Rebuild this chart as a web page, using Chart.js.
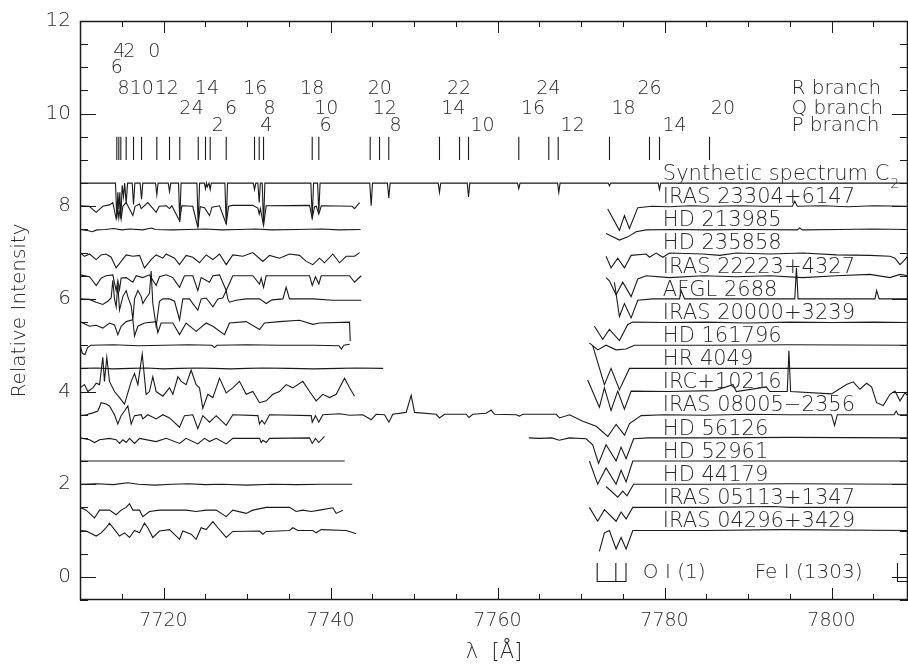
<!DOCTYPE html>
<html>
<head>
<meta charset="utf-8">
<script src="https://cdn.jsdelivr.net/npm/chart.js@4.4.1/dist/chart.umd.min.js"></script>
<style>
  html, body { margin: 0; padding: 0; background: #fff; }
  #wrap { width: 908px; height: 669px; }
</style>
</head>
<body>
<div id="wrap"><canvas id="specChart" width="908" height="669"></canvas></div>
<script>
// axis ranges and ticks
const xMin = 7710, xMax = 7809.16;
const yMin = -0.5, yMax = 12;
const xTickValues = [7720, 7740, 7760, 7780, 7800];
const yTickValues = [0, 2, 4, 6, 8, 10, 12];

// C2 line identifications
const lineTicks = [7714.41, 7714.65, 7714.89, 7715.53, 7716.41, 7717.37, 7719.20, 7720.72, 7721.95,
  7724.16, 7725.03, 7725.59, 7727.51, 7730.90, 7731.46, 7731.98, 7737.81, 7738.60,
  7744.75, 7745.87, 7746.98, 7753.05, 7755.45, 7756.53, 7762.55, 7766.14, 7767.27,
  7773.41, 7778.20, 7779.40, 7785.39];
const headNums = ['4', '2', '0'];
const headPos = [7714.7, 7715.9, 7718.9];
const head2Nums = ['6'];
const head2Pos = [7714.4];
const rNums = ['8', '10', '12', '14', '16', '18', '20', '22', '24', '26'];
const rPos = [7715.2, 7717.4, 7720.4, 7725.2, 7731.0, 7737.8, 7745.9, 7755.4, 7766.1, 7778.2];
const qNums = ['2', '4', '6', '8', '10', '12', '14', '16', '18', '20'];
const qPos = [7722.6, 7724.1, 7728.1, 7732.7, 7739.5, 7746.5, 7754.7, 7764.25, 7775.1, 7787.0];
const pNums = ['2', '4', '6', '8', '10', '12', '14'];
const pPos = [7726.5, 7732.3, 7739.4, 7747.8, 7758.2, 7769.0, 7781.2];
const branchNames = ['R branch', 'Q branch', 'P branch'];

// object names and their offsets
const starNames = ['IRAS 23304+6147', 'HD 213985', 'HD 235858', 'IRAS 22223+4327', 'AFGL 2688',
  'IRAS 20000+3239', 'HD 161796', 'HR 4049', 'IRC+10216', 'IRAS 08005\u22122356', 'HD 56126',
  'HD 52961', 'HD 44179', 'IRAS 05113+1347', 'IRAS 04296+3429'];
const starLevels = [8.0, 7.5, 7.0, 6.5, 6.0, 5.5, 5.0, 4.5, 4.0, 3.5, 3.0, 2.5, 2.0, 1.5, 1.0];
const synthLevel = 8.5;

// O I and Fe I markers
const oiLines = [7771.94, 7774.17, 7775.39];
const feiLines = [7807.9];

// spectra [wavelength, offset intensity]
const synth = [[7710,8.5],[7714.25,8.5],[7714.41,7.73],[7714.53,8.3],[7714.65,7.94],[7714.77,8.3],[7714.89,7.73],
  [7715.05,8.45],[7715.21,8.21],[7715.35,8.5],[7715.53,8.06],[7715.7,8.5],[7716.25,8.5],[7716.41,8.04],[7716.57,8.5],
  [7717.2,8.5],[7717.37,8.15],[7717.52,8.5],[7719.05,8.5],[7719.2,8.25],[7719.35,8.5],[7720.57,8.5],[7720.72,8.32],
  [7720.87,8.5],[7721.8,8.5],[7721.95,7.66],[7722.1,8.5],[7724.0,8.5],[7724.16,7.56],[7724.32,8.5],[7724.9,8.5],
  [7725.03,8.38],[7725.15,8.5],[7725.25,8.42],[7725.45,8.5],[7725.59,8.36],[7725.72,8.5],[7727.35,8.5],[7727.51,7.62],
  [7727.67,8.5],[7730.75,8.5],[7730.9,8.36],[7731.05,8.5],[7731.3,8.5],[7731.46,8.08],[7731.6,8.5],[7731.82,8.5],
  [7731.98,7.59],[7732.14,8.5],[7737.65,8.5],[7737.81,7.73],[7737.97,8.5],[7738.45,8.5],[7738.6,7.87],[7738.75,8.5],
  [7744.7,8.5],[7744.87,8.01],[7745.03,8.5],[7746.82,8.5],[7746.98,8.18],[7747.14,8.5],[7752.9,8.5],[7753.05,8.3],
  [7753.2,8.5],[7756.38,8.5],[7756.53,8.2],[7756.68,8.5],[7762.4,8.5],[7762.55,8.38],[7762.7,8.5],[7767.19,8.5],
  [7767.34,8.3],[7767.49,8.5],[7773.26,8.5],[7773.41,8.44],[7773.56,8.5],[7779.25,8.5],[7779.4,8.36],[7779.55,8.5],
  [7809.5,8.5]];

const iras23304L = [[7710,8.01],[7711.1,8.0],[7711.94,7.87],[7712.73,8.0],[7713.53,8.03],[7713.93,8.08],[7714.33,7.73],
  [7714.53,7.95],[7714.65,7.75],[7714.8,7.95],[7714.93,7.73],[7715.13,8.0],[7715.53,8.08],[7716.33,7.8],[7716.6,8.0],
  [7717.13,8.05],[7717.33,7.95],[7718.12,8.08],[7719.12,7.87],[7719.5,8.0],[7720.32,8.01],[7720.72,7.95],[7721.0,8.01],
  [7721.92,7.69],[7722.2,8.01],[7723.5,8.0],[7724.11,7.55],[7724.4,7.99],[7724.91,7.97],[7725.51,7.8],[7725.8,7.98],
  [7726.71,8.01],[7727.51,7.62],[7727.8,8.0],[7728.3,8.02],[7730.7,8.02],[7731.3,7.96],[7731.46,7.83],[7731.6,7.95],
  [7731.98,7.59],[7732.3,8.01],[7737.49,8.02],[7737.81,7.74],[7738.1,7.99],[7738.3,8.0],[7738.6,7.83],[7738.9,8.01],
  [7742.6,8.0],[7742.88,7.95],[7743.48,8.08]];
const iras23304R = [[7773.2,7.94],[7774.6,7.48],[7775.2,7.8],[7775.8,7.52],[7776.8,7.97],[7778.5,8.0],[7780.6,7.99],
  [7783,8.01],[7786,8.0],[7789,8.01],[7792,8.0],[7795.3,8.0],[7795.6,8.11],[7795.9,8.0],[7799,8.01],[7802,7.99],
  [7805,8.01],[7809.2,8.0]];

const hd213985L = [[7710,7.5],[7711,7.47],[7711.5,7.45],[7712,7.49],[7713,7.5],[7714,7.52],[7715,7.49],[7716,7.51],
  [7717.5,7.49],[7718.6,7.53],[7719,7.5],[7721,7.49],[7723,7.5],[7725,7.51],[7727,7.49],[7729,7.5],[7731,7.51],
  [7733,7.49],[7736,7.5],[7739,7.51],[7741,7.49],[7743.6,7.5]];
const hd213985R = [[7773,7.41],[7773.8,7.34],[7774.6,7.27],[7775.6,7.34],[7776.6,7.45],[7777.8,7.49],[7781,7.5],
  [7785,7.49],[7790,7.5],[7795.9,7.49],[7796.2,7.53],[7796.5,7.49],[7801,7.5],[7805,7.51],[7809.2,7.5]];

const hd235858L = [[7710,7.0],[7710.54,6.92],[7711.14,6.97],[7711.94,6.85],[7712.53,6.95],[7713.13,6.97],[7713.73,6.9],
  [7714.33,6.67],[7714.93,6.81],[7715.53,6.95],[7716.33,6.92],[7717.13,6.94],[7717.72,6.67],[7718.52,6.85],[7719.12,6.95],
  [7719.92,6.88],[7720.32,6.97],[7721.32,6.88],[7721.92,6.74],[7722.71,6.94],[7723.51,6.9],[7724.31,6.78],[7725.11,6.95],
  [7725.91,6.85],[7726.71,6.97],[7727.51,6.74],[7728.3,6.95],[7729.5,6.92],[7730.7,7.0],[7731.9,6.81],[7732.7,6.94],
  [7733.89,6.88],[7735.09,6.97],[7736.29,6.94],[7737.09,6.81],[7737.88,6.74],[7738.68,6.88],[7739.28,6.78],
  [7740.28,6.97],[7741.08,6.78],[7741.88,6.92],[7742.88,6.92],[7743.48,7.0]];
const hd235858R = [[7773,6.92],[7773.6,6.67],[7774.4,6.88],[7775.2,6.67],[7776,6.94],[7777.8,6.97],[7778.2,6.9],
  [7779,6.99],[7779.8,6.9],[7780.6,6.99],[7784.6,6.97],[7786.6,6.94],[7788.6,6.99],[7792.6,6.97],[7796.6,6.99],
  [7800.6,6.95],[7804.6,6.94],[7807,6.92],[7807.6,6.88],[7808.2,6.74],[7808.6,6.81],[7809.2,6.94]];

const iras22223L = [[7710,6.52],[7711.14,6.48],[7711.94,6.29],[7712.53,6.45],[7713.13,6.5],[7713.93,6.52],[7714.33,6.18],
  [7714.53,6.4],[7714.73,6.2],[7714.93,6.45],[7715.53,6.46],[7716.33,6.36],[7716.73,6.5],[7717.52,6.46],[7718.32,6.52],
  [7719.12,6.29],[7719.52,6.48],[7720.32,6.52],[7721.12,6.46],[7721.92,6.25],[7722.51,6.5],[7723.51,6.5],[7724.11,6.18],
  [7724.51,6.46],[7725.51,6.36],[7725.91,6.5],[7726.71,6.52],[7727.51,6.18],[7728.3,6.5],[7730.7,6.5],[7731.5,6.32],
  [7731.7,6.45],[7731.98,6.25],[7732.3,6.5],[7737.49,6.5],[7737.81,6.29],[7738.2,6.48],[7738.6,6.32],[7738.88,6.5],
  [7742.28,6.5],[7742.88,6.36],[7743.68,6.5]];
const iras22223R = [[7773,6.46],[7773.4,6.39],[7774.2,6.09],[7775,6.36],[7776,6.05],[7776.8,6.43],[7777.8,6.5],
  [7780.6,6.46],[7784.6,6.5],[7788.6,6.48],[7792.6,6.5],[7796.6,6.46],[7800.6,6.5],[7804.6,6.53],[7807,6.46],
  [7808.2,6.53],[7809.2,6.5]];

const afglL = [[7710,6.0],[7711.14,5.99],[7711.94,5.93],[7712.73,5.88],[7713.33,5.95],[7713.73,6.02],[7713.93,6.4],
  [7714.13,6.0],[7714.33,5.83],[7714.53,6.3],[7714.73,5.76],[7715.13,6.05],[7715.53,6.18],[7715.73,6.05],[7716.13,5.85],
  [7716.33,5.55],[7716.53,6.0],[7716.93,6.18],[7717.33,6.05],[7717.52,5.9],[7717.92,6.02],[7718.32,6.12],[7718.52,6.6],
  [7718.72,5.9],[7719.12,5.41],[7719.52,5.95],[7719.92,6.0],[7720.72,6.0],[7721.32,5.95],[7721.92,5.55],[7722.31,6.0],
  [7723.11,6.0],[7723.51,5.9],[7724.11,5.76],[7724.51,6.0],[7725.11,6.02],[7725.91,5.83],[7726.51,6.0],[7727.1,6.02],
  [7727.51,6.18],[7727.7,6.0],[7727.9,5.93],[7728.7,5.97],[7729.9,6.0],[7731.5,6.0],[7732.3,5.9],[7733.0,5.98],
  [7734.3,6.0],[7734.69,6.25],[7735.09,6.0],[7737.88,6.0],[7740.28,5.97],[7743.68,5.97]];
const afglR = [[7774,6.36],[7774.6,5.62],[7775.2,5.9],[7776,5.59],[7776.8,5.97],[7778.6,6.0],[7781.8,6.0],[7782,6.18],
  [7782.4,6.0],[7790,6.0],[7795.6,6.0],[7795.8,6.67],[7796,6.0],[7805.2,6.0],[7805.4,6.18],[7805.7,6.0],[7809.2,6.0]];

const iras20000L = [[7710,5.51],[7711.14,5.41],[7711.94,5.43],[7712.73,5.37],[7713.53,5.48],[7714.13,5.44],[7714.53,5.23],
  [7714.93,5.41],[7715.53,5.51],[7716.33,5.55],[7716.53,5.2],[7716.93,5.41],[7717.72,5.48],[7719.12,5.51],[7719.32,5.27],
  [7719.72,5.48],[7721.12,5.48],[7721.92,5.23],[7722.71,5.48],[7723.91,5.3],[7725.11,5.48],[7725.91,5.41],[7727.31,5.23],
  [7727.9,5.48],[7729.9,5.51],[7731.5,5.34],[7732.1,5.48],[7733.89,5.51],[7736.29,5.54],[7737.88,5.45],[7738.68,5.48],
  [7742.28,5.5],[7742.36,5.09]];
const iras20000R = [[7771.6,5.41],[7772.6,5.13],[7773.4,5.34],[7774.6,5.1],[7775.6,5.45],[7776.2,5.5],[7780,5.49],
  [7785,5.5],[7790,5.48],[7795,5.5],[7800,5.49],[7805,5.5],[7809.2,5.49]];

const hd161796L = [[7710,5.0],[7710.3,4.82],[7710.6,4.8],[7710.9,4.95],[7711.3,5.0],[7714,5.01],[7717,4.99],
  [7720,5.0],[7723,5.01],[7725.8,5.0],[7726.1,4.95],[7726.4,5.0],[7730,5.01],[7734,5.0],[7738,5.0],[7741,4.99],
  [7741.3,4.92],[7741.6,5.0],[7742.3,5.02]];
const hd161796R = [[7771,5.05],[7772,4.9],[7773,5.0],[7774.2,4.9],[7775.4,4.92],[7776.4,5.0],[7785,5.0],
  [7795,5.01],[7809.2,5.0]];

const hr4049L = [[7710,4.5],[7712,4.51],[7714,4.49],[7716,4.5],[7718,4.51],[7720,4.49],[7722,4.5],[7724,4.51],
  [7726,4.5],[7728,4.49],[7730,4.5],[7732,4.51],[7735,4.5],[7738,4.49],[7741,4.5],[7743,4.51],[7746.3,4.5]];
const hr4049R = [[7771.4,4.99],[7772.8,4.15],[7773.6,4.5],[7774.6,4.04],[7775.8,4.5],[7785,4.5],[7795,4.5],
  [7809.2,4.5]];

const ircL = [[7710,4.08],[7710.54,4.15],[7710.94,4.0],[7711.54,4.08],[7711.94,4.18],[7712.34,4.15],[7712.73,4.74],
  [7712.93,4.22],[7713.21,4.74],[7713.53,4.22],[7714.13,4.0],[7714.73,3.87],[7715.33,3.73],[7715.73,3.97],[7716.13,4.22],
  [7716.53,4.39],[7716.93,4.15],[7717.45,4.81],[7717.92,3.94],[7718.32,4.0],[7718.72,4.32],[7719.12,4.0],[7719.92,3.9],
  [7720.72,4.08],[7721.12,3.94],[7721.72,4.32],[7722.12,4.22],[7722.71,4.15],[7723.31,4.46],[7723.91,4.15],[7724.31,4.08],
  [7724.71,3.64],[7725.31,3.94],[7725.91,3.87],[7726.71,4.29],[7727.51,3.97],[7728.3,4.08],[7729.1,4.22],[7729.9,3.94],
  [7730.7,4.0],[7731.5,3.76],[7732.3,3.8],[7733.09,3.94],[7733.89,4.0],[7734.69,4.15],[7735.49,4.08],[7736.69,4.22],
  [7737.49,4.0],[7738.28,3.8],[7739.08,3.94],[7739.88,3.87],[7740.68,3.94],[7741.68,4.29],[7742.28,4.08],[7742.88,3.9]];
const ircR = [[7770.8,4.25],[7772.2,3.66],[7772.8,4.08],[7773.6,3.59],[7774.4,4.01],[7775.2,3.62],[7776,4.01],
  [7780.6,4.0],[7786,4.02],[7788.2,4.15],[7788.6,4.0],[7792.2,4.1],[7792.6,4.0],[7794.7,4.0],[7794.9,4.88],[7795.1,4.0],
  [7800,3.95],[7801.8,4.15],[7802.6,4.21],[7803.4,4.05],[7804.2,4.18],[7804.8,4.1],[7805.4,3.76],[7806.2,3.7],
  [7807,3.94],[7807.6,4.01],[7808.2,3.8],[7808.8,3.97],[7809.2,3.9]];

const iras08005 = [[7710,3.48],[7710.74,3.5],[7711.54,3.54],[7712.14,3.58],[7712.53,3.76],[7713.13,3.73],[7713.53,3.69],
  [7714.13,3.5],[7714.53,3.3],[7714.93,3.48],[7715.33,3.58],[7715.73,3.69],[7716.13,3.3],[7716.53,3.48],[7717.33,3.5],
  [7717.52,3.41],[7718.12,3.5],[7719.12,3.41],[7719.92,3.5],[7720.72,3.43],[7721.92,3.23],[7722.51,3.48],[7723.51,3.5],
  [7724.11,3.2],[7724.71,3.48],[7725.51,3.34],[7726.31,3.48],[7727.51,3.27],[7728.3,3.5],[7731.3,3.48],[7731.5,3.3],
  [7731.78,3.38],[7732.1,3.3],[7732.7,3.5],[7737.69,3.48],[7737.81,3.34],[7738.2,3.48],[7738.6,3.34],[7739.08,3.5],
  [7741.1,3.52],[7742.3,3.49],[7743.87,3.5],[7744.87,3.39],[7745.47,3.51],[7746.47,3.5],[7746.99,3.34],[7747.46,3.51],
  [7749.06,3.55],[7749.66,3.92],[7750.06,3.55],[7752.65,3.51],[7753.05,3.43],[7753.65,3.51],[7756.25,3.51],
  [7756.57,3.44],[7757.05,3.51],[7758.64,3.53],[7759.24,3.6],[7759.64,3.51],[7762.24,3.5],[7762.63,3.47],[7763.03,3.51],
  [7767.03,3.51],[7767.43,3.43],[7768.62,3.5],[7770.22,3.36],[7771.82,3.25],[7773.21,3.03],[7774.21,3.29],
  [7775.21,3.06],[7775.81,3.31],[7777.2,3.48],[7780,3.5],[7785,3.49],[7790,3.51],[7795,3.5],[7800,3.5],
  [7800.36,3.27],[7800.7,3.5],[7807.5,3.5],[7807.74,3.58],[7808,3.5],[7809.2,3.5]];

const hd56126L = [[7710,3.0],[7711.14,2.96],[7711.74,2.9],[7712.34,2.96],[7713.53,2.99],[7714.33,2.96],[7714.73,2.88],
  [7715.13,2.96],[7715.53,2.9],[7715.93,2.99],[7716.53,2.88],[7717.13,2.99],[7719.12,2.92],[7720.32,2.99],[7721.92,2.88],
  [7722.71,2.99],[7724.11,2.87],[7724.91,2.99],[7725.51,2.92],[7726.31,2.99],[7727.51,2.87],[7728.3,2.99],[7731.5,2.99],
  [7731.7,2.9],[7731.9,2.95],[7732.3,2.9],[7732.7,2.99],[7737.49,3.0],[7737.81,2.88],[7738.2,2.99],[7738.6,2.9],
  [7739.28,3.03]];
const hd56126R = [[7763.75,3.0],[7765,2.99],[7766.5,3.0],[7767.4,2.95],[7768.6,3.0],[7770.6,2.98],[7771.4,2.85],
  [7772.1,2.45],[7773,2.85],[7774.2,2.5],[7774.8,2.8],[7775.4,2.55],[7776.3,2.98],[7778,3.0],[7785,3.0],[7795,3.01],
  [7809.2,3.0]];

const hd52961L = [[7710,2.5],[7715,2.5],[7720,2.5],[7725,2.5],[7730,2.5],[7735,2.5],[7741.7,2.5]];
const hd52961R = [[7771,2.5],[7772,2.0],[7773,2.35],[7774.2,2.0],[7774.8,2.3],[7775.4,2.05],[7776.2,2.5],[7785,2.5],
  [7795,2.5],[7809.2,2.5]];

const hd44179L = [[7710,2.0],[7712,2.01],[7714,1.99],[7715.7,2.03],[7717,2.0],[7719,1.98],[7721,2.0],[7723,2.01],
  [7725,1.99],[7727,2.0],[7730,1.98],[7733,2.0],[7736,1.99],[7739,2.0],[7742.6,2.0]];
const hd44179R = [[7773,1.95],[7774.4,1.72],[7775,1.85],[7775.5,1.75],[7776.3,2.0],[7785,2.0],[7795,2.01],[7809.2,2.0]];

const iras05113L = [[7710,1.5],[7710.74,1.44],[7711.74,1.27],[7712.34,1.44],[7713.53,1.44],[7714.33,1.34],[7714.93,1.44],
  [7715.53,1.5],[7715.93,1.58],[7716.33,1.44],[7717.13,1.44],[7717.52,1.3],[7718.32,1.41],[7719.52,1.44],[7720.32,1.44],
  [7721.92,1.44],[7722.71,1.44],[7723.91,1.41],[7725.11,1.44],[7726.31,1.44],[7727.51,1.3],[7728.3,1.44],[7729.9,1.37],
  [7730.7,1.44],[7732.3,1.5],[7735.09,1.5],[7735.89,1.41],[7736.69,1.44],[7737.69,1.41],[7738.68,1.44],[7740.28,1.49],
  [7740.68,1.37],[7741.48,1.44]];
const iras05113R = [[7771,1.5],[7772,1.2],[7772.8,1.45],[7774.2,1.2],[7774.8,1.4],[7775.4,1.25],[7776.2,1.5],[7785,1.5],
  [7793,1.52],[7795,1.5],[7809.2,1.5]];

const iras04296L = [[7710,1.0],[7710.74,0.99],[7711.94,0.88],[7712.53,0.95],[7713.13,1.06],[7713.53,1.16],[7714.13,1.02],
  [7714.73,0.88],[7715.33,0.95],[7715.93,0.85],[7716.53,1.0],[7717.13,0.95],[7717.72,1.16],[7718.12,1.06],[7718.72,0.85],
  [7719.52,0.99],[7720.72,1.02],[7721.92,0.81],[7722.31,0.99],[7723.31,0.92],[7723.91,0.81],[7724.51,1.06],[7725.11,1.02],
  [7725.91,1.19],[7726.51,1.06],[7727.51,0.85],[7728.3,0.98],[7731.5,0.99],[7731.9,0.92],[7732.3,0.98],[7735.09,1.0],
  [7735.49,1.06],[7736.09,1.0],[7737.88,1.0],[7738.28,0.95],[7738.88,1.02],[7741.88,1.0],[7743.08,0.93]];
const iras04296R = [[7772.2,0.55],[7772.8,0.95],[7773.4,1.0],[7774.2,0.6],[7774.8,0.85],[7775.4,0.6],[7776.2,1.0],
  [7785,1.0],[7794,1.02],[7809.2,1.0]];

const spectra = [synth, iras23304L, iras23304R, hd213985L, hd213985R, hd235858L, hd235858R, iras22223L, iras22223R,
  afglL, afglR, iras20000L, iras20000R, hd161796L, hd161796R, hr4049L, hr4049R, ircL, ircR, iras08005,
  hd56126L, hd56126R, hd52961L, hd52961R, hd44179L, hd44179R, iras05113L, iras05113R, iras04296L, iras04296R];

const ink = '#1a1a1a';
const textInk = '#2a2a2a';
const toPts = arr => arr.map(p => ({ x: p[0], y: p[1] }));
const lineStyle = { showLine: true, borderColor: ink, borderWidth: 1.1, pointRadius: 0, tension: 0, fill: false };

const datasets = spectra.map(s => Object.assign({ data: toPts(s) }, lineStyle));

// tick marks of the line identifications
const idPts = [];
lineTicks.forEach(l => { idPts.push({ x: l, y: 9.0 }, { x: l, y: 9.5 }, { x: l, y: null }); });
datasets.push(Object.assign({ data: idPts, spanGaps: false }, lineStyle));

// O I triplet bracket and Fe I marker
datasets.push(Object.assign({ data: [
  { x: oiLines[0], y: 0.3 }, { x: oiLines[0], y: -0.1 }, { x: oiLines[2], y: -0.1 }, { x: oiLines[2], y: 0.3 },
  { x: oiLines[2], y: null }, { x: oiLines[1], y: -0.1 }, { x: oiLines[1], y: 0.3 }], spanGaps: false }, lineStyle));
datasets.push(Object.assign({ data: [
  { x: feiLines[0], y: 0.3 }, { x: feiLines[0], y: -0.1 }, { x: xMax + 1, y: -0.1 }] }, lineStyle));

const fontFam = '"DejaVu Sans", "Liberation Sans", sans-serif';
const fontWeight = 200;

const decor = {
  id: 'decor',
  afterDatasetsDraw(chart) {
    const { ctx, chartArea: a, scales: { x, y } } = chart;
    ctx.save();
    ctx.strokeStyle = ink;
    ctx.fillStyle = textInk;
    ctx.lineWidth = 1;
    const seg = (x1, y1, x2, y2) => { ctx.beginPath(); ctx.moveTo(x1, y1); ctx.lineTo(x2, y2); ctx.stroke(); };

    // frame
    ctx.lineWidth = 1.5;
    ctx.strokeRect(a.left + 0.5, a.top + 0.5, a.right - a.left - 1, a.bottom - a.top - 1);
    ctx.lineWidth = 1;

    // x ticks, bottom and top, pointing inward
    for (let v = 7710; v <= xMax; v += 5) {
      const px = Math.round(x.getPixelForValue(v)) + 0.5;
      const len = xTickValues.includes(v) ? 12 : 6;
      seg(px, a.bottom, px, a.bottom - len);
      seg(px, a.top, px, a.top + len);
    }
    // y ticks, left and right
    for (let v = yMin; v <= yMax; v += 0.5) {
      const py = Math.round(y.getPixelForValue(v)) + 0.5;
      const len = yTickValues.includes(v) ? 16 : 8;
      seg(a.left, py, a.left + len, py);
      seg(a.right, py, a.right - len, py);
    }

    const setFont = size => { ctx.font = fontWeight + ' ' + size + 'px ' + fontFam; };
    const txt = (s, lam, val, align, size) => {
      setFont(size);
      ctx.textAlign = align;
      ctx.textBaseline = 'alphabetic';
      ctx.fillText(s, x.getPixelForValue(lam), y.getPixelForValue(val));
    };

    // line identification numbers
    headNums.forEach((s, i) => txt(s, headPos[i], 11.22, 'center', 19));
    head2Nums.forEach((s, i) => txt(s, head2Pos[i], 10.88, 'center', 19));
    rNums.forEach((s, i) => txt(s, rPos[i], 10.42, 'center', 19));
    qNums.forEach((s, i) => txt(s, qPos[i], 10.0, 'center', 19));
    pNums.forEach((s, i) => txt(s, pPos[i], 9.63, 'center', 19));
    const bx = 7795.2;
    txt(branchNames[0], bx, 10.42, 'left', 20);
    txt(branchNames[1], bx, 10.0, 'left', 20);
    txt(branchNames[2], bx, 9.63, 'left', 20);

    // object labels
    const lx = 7779.8;
    const head = 'Synthetic spectrum C';
    txt(head, lx, synthLevel + 0.07, 'left', 21);
    setFont(21);
    const w = ctx.measureText(head).width;
    setFont(14);
    ctx.textAlign = 'left';
    ctx.fillText('2', x.getPixelForValue(lx) + w + 1, y.getPixelForValue(synthLevel) + 5);
    starNames.forEach((s, i) => txt(s, lx, starLevels[i] + 0.07, 'left', 21));

    // atomic line labels
    txt('O I (1)', 7777.4, -0.02, 'left', 20);
    txt('Fe I (1303)', 7790.8, -0.02, 'left', 20);
    ctx.restore();
  }
};

new Chart(document.getElementById('specChart'), {
  type: 'scatter',
  data: { datasets },
  options: {
    responsive: false,
    animation: false,
    devicePixelRatio: 1,
    layout: { padding: { top: 7, right: 0, left: 0, bottom: 0 } },
    plugins: { legend: { display: false }, tooltip: { enabled: false } },
    scales: {
      x: {
        type: 'linear', min: xMin, max: xMax,
        afterBuildTicks: s => { s.ticks = xTickValues.map(v => ({ value: v })); },
        afterFit: s => { s.height = 69; },
        grid: { display: false, drawTicks: false },
        border: { display: false },
        ticks: { padding: 10, color: textInk, font: { family: fontFam, size: 19, weight: fontWeight },
          callback: v => String(v) },
        title: { display: true, text: '\u03bb  [\u00c5]', color: textInk,
          font: { family: fontFam, size: 21, weight: fontWeight }, padding: { top: 0, bottom: 4 } }
      },
      y: {
        type: 'linear', min: yMin, max: yMax,
        afterBuildTicks: s => { s.ticks = yTickValues.map(v => ({ value: v })); },
        afterFit: s => { s.width = 80; },
        grid: { display: false, drawTicks: false },
        border: { display: false },
        ticks: { padding: 9, color: textInk, font: { family: fontFam, size: 20, weight: fontWeight },
          callback: v => String(v) },
        title: { display: true, text: 'Relative Intensity', color: textInk,
          font: { family: fontFam, size: 20, weight: fontWeight }, padding: { top: 8, bottom: 0 } }
      }
    }
  },
  plugins: [decor]
});
</script>
</body>
</html>
